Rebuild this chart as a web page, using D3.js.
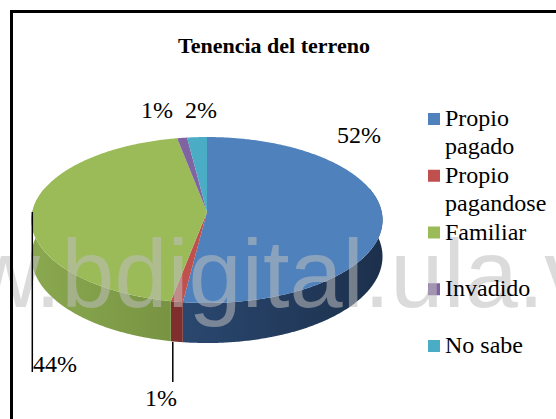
<!DOCTYPE html>
<html>
<head>
<meta charset="utf-8">
<script src="https://cdn.jsdelivr.net/npm/d3@7"></script>
<style>
  html, body { margin: 0; padding: 0; background: #fff; }
  svg { display: block; }
  .serif { font-family: "Liberation Serif", "Times New Roman", Times, serif; }
  .sans { font-family: "Liberation Sans", Arial, Helvetica, sans-serif; }
</style>
</head>
<body>
<div id="chart"></div>
<script>
// data
const categories = ["Propio pagado", "Propio pagandose", "Familiar", "Invadido", "No sabe"];
const legendLines = [["Propio", "pagado"], ["Propio", "pagandose"], ["Familiar"], ["Invadido"], ["No sabe"]];
const values = [52, 1, 44, 1, 2];
const pctLabels = ["52%", "1%", "44%", "1%", "2%"];
const topColors = ["#4f81bd", "#c0504d", "#9bbb59", "#8064a2", "#4bacc6"];
const wallColors = [["#35598a", "#1c304c"], ["#8a3331", "#6e2826"], ["#8aa84f", "#5c7531"], ["#6a528a", "#4d3b66"], ["#3c93aa", "#2b6f82"]];

const W = 556, H = 419;
const CX = 207, CY = 212, RX = 174.7, RY = 82.2, K = 0.0964, DEPTH = 36.2;

const svg = d3.select("#chart").append("svg")
    .attr("width", W)
    .attr("height", H);

const defs = svg.append("defs");

// perspective projection of a point on the pie rim
function proj(theta, drop) {
    const u = Math.sin(theta), v = -Math.cos(theta);
    const f = 1 / (1 - K * v);
    return [CX + RX * u * f, CY + RY * v * f + (drop || 0) * f];
}

const arcs = d3.pie().sort(null).value(d => d)(values);
const line = d3.line();

function angles(a0, a1) {
    const n = Math.max(2, Math.ceil((a1 - a0) / 0.01));
    return d3.range(n + 1).map(i => a0 + (a1 - a0) * i / n);
}

// wall gradients
arcs.forEach((a, i) => {
    const g = defs.append("linearGradient")
        .attr("id", "wall" + i)
        .attr("gradientUnits", "userSpaceOnUse")
        .attr("x1", CX - RX).attr("x2", CX + RX)
        .attr("y1", 0).attr("y2", 0);
    g.append("stop").attr("offset", 0).attr("stop-color", wallColors[i][0]);
    g.append("stop").attr("offset", 1).attr("stop-color", wallColors[i][1]);
});

const pieG = svg.append("g");

// side walls (front half only)
arcs.forEach((a, i) => {
    const s = Math.max(a.startAngle, Math.PI / 2 - 0.3);
    const e = Math.min(a.endAngle, 3 * Math.PI / 2 + 0.3);
    if (e <= s) return;
    const ts = angles(s, e);
    const pts = ts.map(t => proj(t, 0)).concat(ts.slice().reverse().map(t => proj(t, DEPTH)));
    pieG.append("path")
        .attr("d", line(pts) + "Z")
        .attr("fill", "url(#wall" + i + ")");
});

// top faces
arcs.forEach((a, i) => {
    const pts = [[CX, CY]].concat(angles(a.startAngle, a.endAngle).map(t => proj(t, 0)));
    pieG.append("path")
        .attr("d", line(pts) + "Z")
        .attr("fill", topColors[i]);
});

// legend squares
const legY = d3.scalePoint().domain(categories).range([126, 353]);
svg.append("g").selectAll("rect")
    .data(categories)
    .enter().append("rect")
    .attr("x", 428)
    .attr("y", d => legY(d) - 13)
    .attr("width", 12)
    .attr("height", 12)
    .attr("fill", (d, i) => topColors[i]);

// watermark
svg.append("text")
    .attr("class", "sans")
    .attr("x", -167)
    .attr("y", 307)
    .attr("font-size", 95.5)
    .attr("fill", "#bdbdbd")
    .attr("fill-opacity", 0.55)
    .text("www.bdigital.ula.ve");

// title
svg.append("text")
    .attr("class", "serif")
    .attr("x", 274)
    .attr("y", 53)
    .attr("text-anchor", "middle")
    .attr("font-weight", "bold")
    .attr("font-size", 22)
    .text("Tenencia del terreno");

// data labels
const labelPos = [
    { x: 337, y: 143 },
    { x: 145, y: 406, leader: true },
    { x: 33, y: 372, leader: true },
    { x: 141, y: 118 },
    { x: 185, y: 118 }
];

arcs.forEach((a, i) => {
    const p = labelPos[i];
    if (p.leader) {
        const mid = (a.startAngle + a.endAngle) / 2;
        let anchor;
        if (i === 2) {
            anchor = proj(mid, 0);
            svg.append("line")
                .attr("x1", anchor[0]).attr("y1", anchor[1])
                .attr("x2", anchor[0]).attr("y2", p.y)
                .attr("stroke", "#000").attr("stroke-width", 1.5);
        } else {
            anchor = proj(mid, DEPTH);
            svg.append("line")
                .attr("x1", anchor[0] - 4).attr("y1", anchor[1])
                .attr("x2", anchor[0] - 4).attr("y2", p.y - 24)
                .attr("stroke", "#000").attr("stroke-width", 1.5);
        }
    }
    svg.append("text")
        .attr("class", "serif")
        .attr("x", p.x)
        .attr("y", p.y)
        .attr("font-size", 24)
        .text(pctLabels[i]);
});

// legend text
const legText = svg.append("g")
    .attr("class", "serif")
    .attr("font-size", 24);
categories.forEach((c, i) => {
    legendLines[i].forEach((ln, j) => {
        legText.append("text")
            .attr("x", 445)
            .attr("y", legY(c) + j * 28)
            .text(ln);
    });
});

// chart border
svg.append("rect")
    .attr("x", 11.5)
    .attr("y", 11.5)
    .attr("width", 700)
    .attr("height", 600)
    .attr("fill", "none")
    .attr("stroke", "#000")
    .attr("stroke-width", 3);
</script>
</body>
</html>
